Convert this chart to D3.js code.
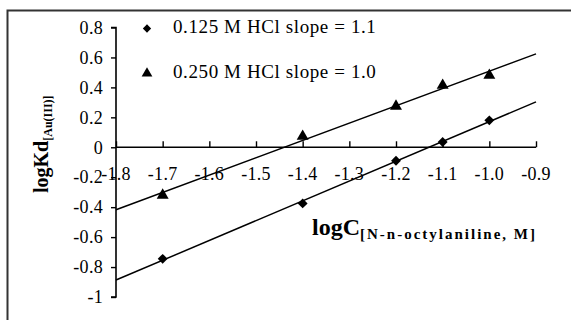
<!DOCTYPE html>
<html><head><meta charset="utf-8">
<script src="https://cdn.jsdelivr.net/npm/d3@7"></script>
<style>
html,body{margin:0;padding:0;background:#fff;}
svg, svg text, svg tspan, svg g{font-family:"Liberation Serif","Times New Roman",serif !important;}
</style></head>
<body>
<svg id="c" width="571" height="320"></svg>
<script>
// Data
const xCats = [-1.7, -1.4, -1.2, -1.1, -1.0];
const hcl0125 = [-0.745, -0.375, -0.09, 0.035, 0.18];
const hcl0250 = [-0.32, 0.073, 0.274, 0.414, 0.48];
const xTicks = [-1.8, -1.7, -1.6, -1.5, -1.4, -1.3, -1.2, -1.1, -1.0, -0.9];
const xTickLabels = ["-1.8","-1.7","-1.6","-1.5","-1.4","-1.3","-1.2","-1.1","-1.0","-0.9"];
const yTicks = [0.8, 0.6, 0.4, 0.2, 0, -0.2, -0.4, -0.6, -0.8, -1];
const yTickLabels = ["0.8","0.6","0.4","0.2","0","-0.2","-0.4","-0.6","-0.8","-1"];
const legendLabels = ["0.125 M HCl slope = 1.1", "0.250 M HCl slope = 1.0"];

const svg = d3.select("#c");
const x = d3.scaleLinear().domain([-1.8, -0.9]).range([116, 536]);
const y = d3.scaleLinear().domain([-1, 0.8]).range([297, 27.5]);

// outer frame (cropped)
svg.append("path").attr("d","M7.5,330 L7.5,10.5 L580,10.5")
  .attr("fill","none").attr("stroke","#333").attr("stroke-width",2);

// y axis
const yAxis = d3.axisLeft(y).tickValues(yTicks).tickSize(5).tickPadding(8)
  .tickFormat((d,i)=>yTickLabels[i]);
const gy = svg.append("g").attr("transform",`translate(${x(-1.8)},0)`).call(yAxis)
  .attr("font-size","18px");
gy.select(".domain").attr("stroke","#000").attr("stroke-width",1.6).attr("d",`M-5,${y(0.8)}H0V${y(-1)}H-5`);
gy.selectAll(".tick line").attr("stroke","#000").attr("stroke-width",1.4);
gy.selectAll(".tick text").attr("fill","#000").attr("letter-spacing","0.3px");

// x axis at y=0, ticks upward, labels below
const xAxis = d3.axisTop(x).tickValues(xTicks).tickSize(6).tickFormat(()=>"");
const gx = svg.append("g").attr("transform",`translate(0,${y(0)})`).call(xAxis);
gx.select(".domain").attr("stroke","#000").attr("stroke-width",1.6).attr("d",`M${x(-1.8)},0H${x(-0.9)}`);
gx.selectAll(".tick line").attr("stroke","#000").attr("stroke-width",1.4);
svg.append("g").selectAll("text").data(xTicks).join("text")
  .attr("x",d=>x(d)).attr("y",y(0)+33).attr("text-anchor","middle")
  .attr("font-size","18px").attr("letter-spacing","0.3px").attr("fill","#000").text((d,i)=>xTickLabels[i]);

// regression trendlines
function fit(xs, ys){
  const mx=d3.mean(xs), my=d3.mean(ys);
  const sxy=d3.sum(xs,(v,i)=>(v-mx)*(ys[i]-my));
  const sxx=d3.sum(xs,v=>(v-mx)*(v-mx));
  const b=sxy/sxx, a=my-b*mx;
  return v=>a+b*v;
}
[hcl0125, hcl0250].forEach(ys=>{
  const f = fit(xCats, ys);
  svg.append("line").attr("x1",x(-1.8)).attr("y1",y(f(-1.8)))
    .attr("x2",x(-0.9)).attr("y2",y(f(-0.9)))
    .attr("stroke","#000").attr("stroke-width",1.5);
});

const diamond = d3.symbol().type(d3.symbolDiamond2).size(62);
const tri = d3.symbol().type(d3.symbolTriangle).size(62);
svg.append("g").selectAll("path").data(xCats).join("path")
  .attr("d",diamond).attr("transform",(d,i)=>`translate(${x(d)},${y(hcl0125[i])})`).attr("fill","#000");
svg.append("g").selectAll("path").data(xCats).join("path")
  .attr("d",tri).attr("transform",(d,i)=>`translate(${x(d)},${y(hcl0250[i])})`).attr("fill","#000");

// legend
svg.append("path").attr("d",d3.symbol().type(d3.symbolDiamond2).size(44)()).attr("transform","translate(147,28.5)").attr("fill","#000");
svg.append("path").attr("d",d3.symbol().type(d3.symbolTriangle).size(50)()).attr("transform","translate(147,73.5)").attr("fill","#000");
svg.append("text").attr("x",173).attr("y",32.5).attr("font-size","19px").attr("letter-spacing","0.6px").attr("fill","#000").text(legendLabels[0]);
svg.append("text").attr("x",173).attr("y",77.5).attr("font-size","19px").attr("letter-spacing","0.6px").attr("fill","#000").text(legendLabels[1]);

// y title
const yt = svg.append("text").attr("transform","translate(48,193) rotate(-90)").attr("font-weight","bold").attr("fill","#000");
yt.append("tspan").attr("font-size","20px").text("logKd");
yt.append("tspan").attr("font-size","12px").attr("dy",4).text("[Au(III)]");

// x title
const xt = svg.append("text").attr("x",312).attr("y",235).attr("font-weight","bold").attr("fill","#000");
xt.append("tspan").attr("font-size","24px").text("logC");
xt.append("tspan").attr("font-size","15px").attr("dy",4).attr("letter-spacing","2px").text("[N-n-octylaniline, M]");
</script>
</body></html>
